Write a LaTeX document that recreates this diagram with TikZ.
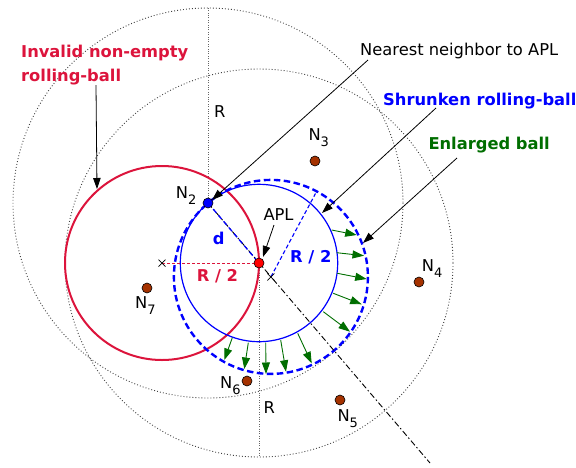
\documentclass[tikz,border=0pt]{standalone}
\usepackage{fontspec}
\setmainfont{DejaVu Sans}
\usetikzlibrary{arrows.meta,calc}
\definecolor{crim}{RGB}{220,20,60}
\definecolor{bblue}{RGB}{0,0,255}
\definecolor{dgreen}{RGB}{0,110,0}
\definecolor{brn}{RGB}{165,50,0}
\newcommand{\Nlab}[1]{N\raisebox{-6pt}{\fontsize{13}{13}\selectfont #1}}
\begin{document}
\begin{tikzpicture}[x=1pt,y=-1pt,
  txt/.style={anchor=base west,inner sep=0pt,font=\fontsize{16.3}{20}\selectfont},
  btxt/.style={txt,font=\fontsize{16.3}{20}\selectfont\bfseries},
  dotcirc/.style={draw=black!75,line width=0.9pt,dash pattern=on 0.9pt off 2.1pt},
  ndot/.style={circle,draw=black,line width=0.6pt,fill=brn,minimum size=10pt,inner sep=0pt},
  note/.style={draw=black,line width=0.8pt,-{Triangle[length=11pt,width=7.5pt]}},
  garrow/.style={draw=dgreen,line width=0.9pt,-{Triangle[length=11.5pt,width=8pt]}},
  xmark/.style={line width=0.7pt}]
\useasboundingbox (0,0) rectangle (576,467);

% key points
\coordinate (apl) at (259,263);
\coordinate (n2c) at (208,203);
\coordinate (cen) at (270.9,276.9);
\coordinate (rc) at (162,263);

% large dotted circles of radius R
\draw[dotcirc] (n2c) circle (195);
\draw[dotcirc] (apl) circle (194);
\coordinate (topR) at (208,8);
\coordinate (botR) at (259,457);
\draw[draw=black!60,line width=0.8pt,dash pattern=on 0.8pt off 1.6pt] (n2c) -- (topR);
\draw[draw=black!60,line width=0.8pt,dash pattern=on 0.8pt off 1.6pt] (apl) -- (botR);

% invalid rolling-ball
\draw[crim,line width=2pt] (rc) circle (97);
% shrunken rolling-ball
\draw[bblue,line width=1.2pt] (apl) circle (78.7);
% enlarged ball
\draw[bblue,line width=2.4pt,dash pattern=on 6.5pt off 3.5pt] (cen) circle (97);

% dash-dot line
\coordinate (lineend) at (430,463);
\draw[black,line width=0.9pt,dash pattern=on 6pt off 2.5pt on 1.5pt off 2.5pt] (n2c) -- (lineend);
% d
\draw[bblue,line width=1.3pt,dash pattern=on 5pt off 3pt] (n2c) -- (apl);
% red R/2
\draw[crim,line width=1pt,dash pattern=on 3pt off 2pt] (rc) -- (apl);
% blue R/2
\coordinate (bR) at (315.5,193.5);
\draw[bblue,line width=1.1pt,dash pattern=on 4pt off 2.5pt] (cen) -- (bR);

% x marks
\draw[xmark] ($(rc)+(-3.5,-3.5)$) -- ++(7,7) ($(rc)+(-3.5,3.5)$) -- ++(7,-7);
\draw[xmark] ($(cen)+(-3.5,-3.5)$) -- ++(7,7) ($(cen)+(-3.5,3.5)$) -- ++(7,-7);

% green arrows
\foreach \sx/\sy/\ex/\ey in {331.7/230/356.7/235, 336.7/252.7/364/255.7, 337.3/273.3/366.7/279,
  333.3/293.3/361.7/304.3, 323.3/311.7/350/331.7, 297.7/333.3/311.7/363.3,
  280.7/340/286/371.7, 265.7/342.7/266/374, 248.3/342.7/244.3/369, 232.3/337.7/224.3/360}
  \draw[garrow] (\sx,\sy) -- (\ex,\ey);

% nodes (dots)
\node[ndot,fill=bblue] (n2) at (n2c) {};
\node[ndot,fill=red] (aplnode) at (apl) {};
\node[ndot] (n3) at (315,161) {};
\node[ndot] (n4) at (419,282) {};
\node[ndot] (n5) at (340,400) {};
\node[ndot] (n6) at (247,381) {};
\node[ndot] (n7) at (147,288) {};

% labels
\node[btxt,text=crim] (inv1) at (21,57) {Invalid non-empty};
\node[btxt,text=crim] (inv2) at (21,81) {rolling-ball};
\node[txt] (nn) at (360,55.7) {Nearest neighbor to APL};
\node[btxt,text=bblue] (shr) at (383,105.3) {Shrunken rolling-ball};
\node[btxt,text=dgreen] (enl) at (428.3,149) {Enlarged ball};
\node[txt] (apllab) at (263.3,220) {APL};
\node[btxt,text=bblue] (dlab) at (212.7,244) {d};
\node[btxt,text=crim] (rr2) at (196.7,281.7) {R / 2};
\node[btxt,text=bblue] (br2) at (290,262.7) {R / 2};
\node[txt] (rup) at (214,117.3) {R};
\node[txt] (rlow) at (263.3,413) {R};
\node[txt] (ln2) at (175.7,198.3) {\Nlab{2}};
\node[txt] (ln3) at (308.3,140) {\Nlab{3}};
\node[txt] (ln4) at (421.7,271.7) {\Nlab{4}};
\node[txt] (ln5) at (337.3,421.7) {\Nlab{5}};
\node[txt] (ln6) at (220,388.3) {\Nlab{6}};
\node[txt] (ln7) at (135,308.3) {\Nlab{7}};

% annotation arrows
\coordinate (a1s) at (96,85);   \coordinate (a1e) at (97,189);
\coordinate (a2s) at (368,60);  \coordinate (a2e) at (212,200);
\coordinate (a3s) at (436,108); \coordinate (a3e) at (322,213);
\coordinate (a4s) at (457,158); \coordinate (a4e) at (363,243);
\coordinate (a5s) at (274,225); \coordinate (a5e) at (263,257);
\draw[note] (a1s) -- (a1e);
\draw[note] (a2s) -- (a2e);
\draw[note] (a3s) -- (a3e);
\draw[note] (a4s) -- (a4e);
\draw[note] (a5s) -- (a5e);
\end{tikzpicture}
\end{document}
